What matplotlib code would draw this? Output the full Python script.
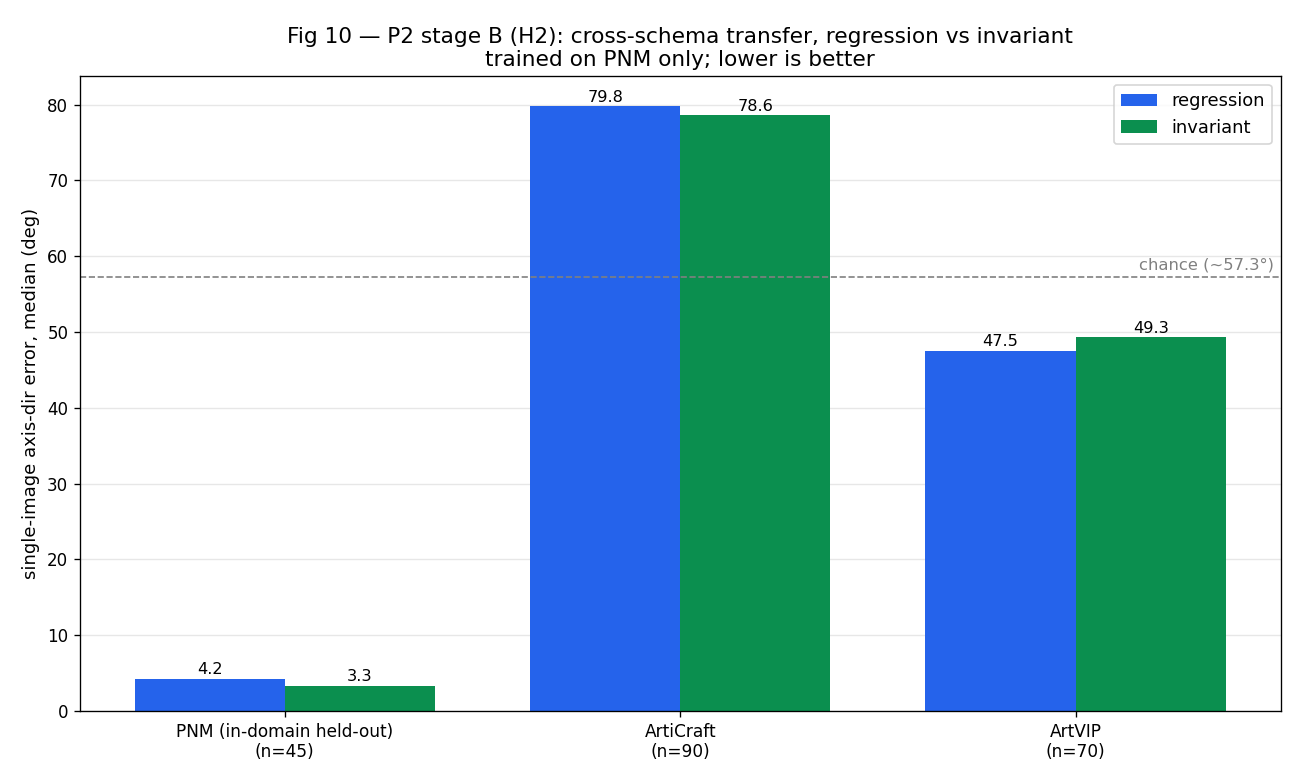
import matplotlib
matplotlib.use("Agg")
import matplotlib.pyplot as plt
import numpy as np

categories = ["PNM (in-domain held-out)\n(n=45)", "ArtiCraft\n(n=90)", "ArtVIP\n(n=70)"]
regression = [4.2, 79.8, 47.5]
invariant = [3.3, 78.6, 49.3]
chance = 57.3

DPI = 120
fig, ax = plt.subplots(figsize=(1300 / DPI, 780 / DPI), dpi=DPI)
x = np.arange(len(categories))
w = 0.38
b1 = ax.bar(x - w / 2, regression, w, color="#2563eb", label="regression")
b2 = ax.bar(x + w / 2, invariant, w, color="#0b8f4f", label="invariant")
for bars, vals in ((b1, regression), (b2, invariant)):
    for rect, v in zip(bars, vals):
        ax.annotate(f"{v:.1f}", (rect.get_x() + rect.get_width() / 2, v),
                    xytext=(0, 1), textcoords="offset points",
                    ha="center", va="bottom", fontsize=9.7)
ax.axhline(chance, color="gray", linestyle="--", linewidth=1.0)
ax.text(0.995, chance + 0.6, "chance (~57.3°)", transform=ax.get_yaxis_transform(),
        ha="right", va="bottom", color="gray", fontsize=9.8)
ax.set_xticks(x)
ax.set_xticklabels(categories, fontsize=10.2)
ax.set_ylabel("single-image axis-dir error, median (deg)", fontsize=10.8)
ax.set_title("Fig 10 — P2 stage B (H2): cross-schema transfer, regression vs invariant\ntrained on PNM only; lower is better", fontsize=13)
ax.yaxis.grid(True, alpha=0.3)
ax.set_axisbelow(True)
ax.tick_params(axis="y", labelsize=10)
ax.legend(loc="upper right", fontsize=10.7)
fig.subplots_adjust(left=0.0615, right=0.985, top=0.9026, bottom=0.0885)
fig.savefig("out.png", dpi=DPI)
